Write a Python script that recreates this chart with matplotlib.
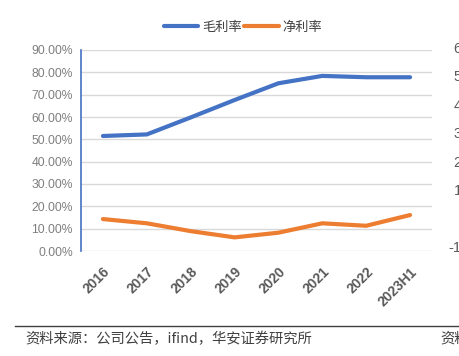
import matplotlib.pyplot as plt
import matplotlib.ticker as mticker

plt.rcParams['font.family'] = ['Noto Sans CJK SC', 'DejaVu Sans']

years = ["2016", "2017", "2018", "2019", "2020", "2021", "2022", "2023H1"]
gross_margin = [51.5, 52.2, 59.8, 67.6, 75.1, 78.4, 77.8, 77.8]
net_margin = [14.3, 12.4, 8.9, 6.1, 8.2, 12.4, 11.3, 16.1]
# clipped axis labels of the neighbouring chart on the right edge
side_labels = ["60", "50", "40", "30", "20", "10", "0", "-10"]

W, H = 459, 356
fig = plt.figure(figsize=(W / 100, H / 100), dpi=100)
ax = fig.add_axes([81 / W, 1 - 251 / H, (432 - 81) / W, (251 - 50) / H])

x = range(len(years))
l1, = ax.plot(x, gross_margin, color="#4472C4", lw=3, solid_capstyle="round", label="毛利率")
l2, = ax.plot(x, net_margin, color="#ED7D31", lw=3, solid_capstyle="round", label="净利率")

ax.set_xlim(-0.5, 7.5)
ax.set_ylim(0, 90)
ax.set_yticks(range(0, 91, 10))
ax.yaxis.set_major_formatter(mticker.FuncFormatter(lambda v, p: f"{v:.2f}%"))
ax.grid(axis="y", color="#D9D9D9", lw=1)
ax.set_axisbelow(True)
for s in ["top", "right", "bottom"]:
    ax.spines[s].set_visible(False)
ax.spines["left"].set_color("#4472C4")
ax.spines["left"].set_linewidth(1.2)
ax.tick_params(length=0)
ax.tick_params(axis="y", pad=6)
for t in ax.get_yticklabels():
    t.set_fontfamily("Liberation Sans")
    t.set_fontsize(8.7)
    t.set_color("#7F7F7F")
ax.set_xticks(list(x))
ax.set_xticklabels(years, rotation=45, ha="right", rotation_mode="anchor",
                   fontfamily="Liberation Sans", fontsize=10, fontweight="bold", color="#595959")
ax.tick_params(axis="x", pad=10)

fig.legend(handles=[l1, l2], loc="center", bbox_to_anchor=(243 / W, 1 - 27 / H), ncol=2,
           frameon=False, fontsize=9.5, handlelength=2.6, columnspacing=0.2, handletextpad=0.3,
           labelcolor="#404040")

# right-edge clipped labels
for i, lab in enumerate(side_labels):
    fig.text(470 / W, 1 - (49 + i * 28.4) / H, lab, ha="right", va="center",
             fontfamily="Liberation Sans", fontsize=10.5, color="#595959")

# bottom source line
fig.add_artist(plt.Line2D([15 / W, 1], [1 - 326 / H, 1 - 326 / H], color="#404040", lw=1))
fig.text(25 / W, 1 - 339 / H, "资料来源：公司公告，ifind，华安证券研究所", ha="left", va="center",
         fontsize=10.3, color="#404040")
fig.text(440 / W, 1 - 339 / H, "资料来源", ha="left", va="center", fontsize=10.3, color="#404040")

fig.savefig("out.png", dpi=100)
